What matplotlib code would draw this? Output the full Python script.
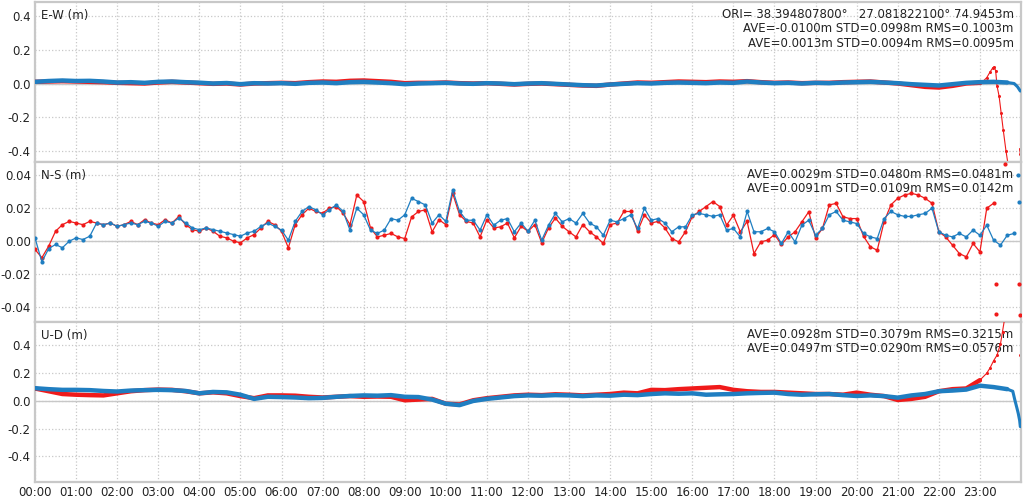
import numpy as np
import matplotlib
matplotlib.use("Agg")
import matplotlib.pyplot as plt

RED = '#f01a1a'
BLUE = '#1f7ec1'
GRID = '#c8c8c8'

# ---- E-W (m), 20 minute readings 00:00 .. 23:40 ----
ew_t = np.arange(72) / 3.0
ew_blue = [0.010, 0.015, 0.018, 0.015, 0.016, 0.012, 0.006, 0.008, 0.004, 0.010, 0.012, 0.008,
           0.005, 0.000, 0.003, -0.004, 0.002, 0.000, 0.002, -0.002, 0.004, 0.006, 0.002, 0.008,
           0.010, 0.006, 0.002, -0.004, 0.000, 0.002, 0.004, 0.000, -0.002, 0.002, 0.000, -0.004,
           0.000, 0.002, -0.002, -0.006, -0.010, -0.012, -0.006, -0.002, 0.002, 0.000, 0.004, 0.006,
           0.004, 0.002, 0.006, 0.004, 0.012, 0.006, 0.002, 0.004, 0.000, 0.004, 0.002, 0.006,
           0.008, 0.010, 0.006, 0.002, -0.004, -0.008, -0.012, -0.004, 0.004, 0.008, 0.010, 0.006]
ew_blue_tail_t = [23 + 40/60, 23 + 50/60, 23 + 55/60, 23 + 59/60]
ew_blue_tail = [0.006, 0.000, -0.020, -0.045]

ew_red = [0.010, 0.012, 0.014, 0.012, 0.010, 0.008, 0.004, 0.002, 0.000, 0.006, 0.010, 0.006,
          0.002, -0.002, 0.000, -0.006, 0.000, 0.002, 0.004, 0.002, 0.008, 0.012, 0.010, 0.016,
          0.018, 0.014, 0.010, 0.002, 0.004, 0.004, 0.006, 0.002, 0.000, 0.002, -0.002, -0.006,
          -0.002, 0.000, -0.004, -0.008, -0.012, -0.014, -0.006, 0.000, 0.006, 0.004, 0.008, 0.012,
          0.010, 0.008, 0.012, 0.010, 0.014, 0.008, 0.004, 0.006, 0.002, 0.004, 0.004, 0.008,
          0.010, 0.012, 0.006, 0.000, -0.010, -0.020, -0.024, -0.014, 0.000, 0.004]
ew_red_tail_t = [23.0, 23 + 5/60, 23 + 10/60, 23 + 15/60, 23 + 19/60, 23 + 21/60, 23 + 23/60,
                 23 + 25/60, 23 + 28/60, 23 + 31/60, 23 + 34/60, 23 + 38/60, 23 + 41/60]
ew_red_tail = [0.004, 0.015, 0.035, 0.070, 0.095, 0.100, 0.075,
               -0.015, -0.075, -0.175, -0.275, -0.400, -0.480]
ew_red_end_t = [23 + 58/60, 23 + 59/60]
ew_red_end = [-0.390, -0.420]

# ---- N-S (m), 10 minute readings 00:00 .. 23:50 ----
ns_t = np.arange(144) / 6.0
ns_blue = [0.002, -0.0125, -0.0045, -0.002, -0.004, 0.000, 0.002, 0.001, 0.003, 0.011, 0.010, 0.011,
           0.009, 0.010, 0.011, 0.010, 0.012, 0.011, 0.009, 0.012, 0.011, 0.014, 0.011, 0.008,
           0.007, 0.008, 0.007, 0.006, 0.005, 0.004, 0.003, 0.005, 0.006, 0.009, 0.011, 0.009,
           0.0067, 0.0006, 0.012, 0.018, 0.021, 0.019, 0.016, 0.019, 0.022, 0.018, 0.0067, 0.020,
           0.016, 0.0067, 0.0047, 0.0067, 0.0137, 0.0127, 0.016, 0.026, 0.024, 0.022, 0.011, 0.016,
           0.012, 0.031, 0.018, 0.0127, 0.0127, 0.0067, 0.016, 0.0097, 0.0127, 0.0137, 0.0057, 0.011,
           0.006, 0.0127, 0.0006, 0.0097, 0.0168, 0.0117, 0.0137, 0.011, 0.0168, 0.011, 0.0087, 0.0036,
           0.0127, 0.0117, 0.0137, 0.016, 0.0077, 0.020, 0.0127, 0.0137, 0.011, 0.0057, 0.0087, 0.0087,
           0.016, 0.0168, 0.016, 0.015, 0.016, 0.0067, 0.0077, 0.0026, 0.018, 0.0057, 0.0057, 0.0077,
           0.0057, -0.0014, 0.0057, -0.0004, 0.0097, 0.0127, 0.0036, 0.0077, 0.016, 0.018, 0.0127, 0.0117,
           0.0107, 0.0047, 0.0026, 0.0016, 0.0137, 0.018, 0.016, 0.015, 0.015, 0.016, 0.0168, 0.020,
           0.0057, 0.0036, 0.0026, 0.0047, 0.0026, 0.0067, 0.0036, 0.0097, 0.0006, -0.0024, 0.0036, 0.0047]
ns_blue_tail_t = [23 + 56/60, 23 + 57/60]
ns_blue_tail = [0.040, 0.024]

ns_red = [-0.005, -0.010, -0.003, 0.006, 0.010, 0.012, 0.011, 0.010, 0.012, 0.011, 0.010, 0.011,
          0.009, 0.010, 0.012, 0.010, 0.013, 0.011, 0.010, 0.013, 0.011, 0.015, 0.010, 0.007,
          0.006, 0.008, 0.006, 0.003, 0.002, 0.000, -0.001, 0.002, 0.004, 0.008, 0.012, 0.010,
          0.006, -0.004, 0.010, 0.016, 0.020, 0.018, 0.017, 0.020, 0.021, 0.017, 0.010, 0.028,
          0.024, 0.008, 0.0026, 0.0036, 0.0047, 0.0026, 0.0016, 0.0147, 0.018, 0.019, 0.0057, 0.013,
          0.010, 0.029, 0.016, 0.012, 0.011, 0.0026, 0.013, 0.008, 0.0087, 0.011, 0.002, 0.009,
          0.006, 0.010, -0.001, 0.008, 0.014, 0.009, 0.0057, 0.0026, 0.010, 0.0057, 0.0026, -0.0014,
          0.010, 0.011, 0.018, 0.018, 0.006, 0.016, 0.011, 0.012, 0.008, 0.0016, -0.0004, 0.0057,
          0.015, 0.018, 0.021, 0.024, 0.021, 0.0097, 0.0157, 0.0057, 0.012, -0.0075, -0.0004, 0.0006,
          0.004, -0.002, 0.0026, 0.0057, 0.0117, 0.0178, 0.002, 0.0077, 0.022, 0.0229, 0.0148, 0.0137,
          0.0137, 0.003, -0.0034, -0.0055, 0.0117, 0.022, 0.026, 0.028, 0.029, 0.028, 0.026, 0.023,
          0.0057, 0.0026, -0.0024, -0.0075, -0.0095, -0.0014, -0.0065, 0.020, 0.023]
ns_red_tail_t = [23 + 23/60, 23 + 24/60, 23 + 25/60, 23 + 36/60, 23 + 57/60, 23 + 59/60]
ns_red_tail = [-0.026, -0.044, -0.052, 0.047, -0.026, -0.045]

# ---- U-D (m), 20 minute readings 00:00 .. 23:40 ----
ud_t = np.arange(72) / 3.0
ud_blue = [0.092, 0.085, 0.080, 0.080, 0.078, 0.072, 0.068, 0.075, 0.078, 0.080, 0.078, 0.072,
           0.055, 0.065, 0.062, 0.045, 0.015, 0.030, 0.028, 0.025, 0.020, 0.022, 0.030, 0.036,
           0.040, 0.038, 0.042, 0.030, 0.028, 0.010, -0.020, -0.030, 0.000, 0.015, 0.025, 0.035,
           0.040, 0.038, 0.042, 0.040, 0.035, 0.040, 0.038, 0.045, 0.042, 0.050, 0.055, 0.052,
           0.055, 0.045, 0.048, 0.050, 0.055, 0.058, 0.060, 0.050, 0.045, 0.048, 0.050, 0.042,
           0.036, 0.040, 0.035, 0.024, 0.040, 0.050, 0.070, 0.075, 0.082, 0.110, 0.100, 0.085]
ud_blue_tail_t = [23 + 40/60, 23 + 48/60, 23 + 51/60, 23 + 54/60, 23 + 56/60, 23 + 58/60, 23 + 59/60]
ud_blue_tail = [0.085, 0.070, 0.007, -0.050, -0.090, -0.140, -0.185]

ud_red = [0.090, 0.070, 0.050, 0.045, 0.042, 0.040, 0.055, 0.070, 0.078, 0.082, 0.080, 0.070,
          0.055, 0.062, 0.055, 0.035, 0.020, 0.040, 0.040, 0.038, 0.030, 0.025, 0.030, 0.035,
          0.030, 0.032, 0.030, 0.005, 0.010, 0.015, -0.020, -0.025, 0.005, 0.020, 0.030, 0.040,
          0.045, 0.042, 0.048, 0.045, 0.040, 0.045, 0.050, 0.060, 0.055, 0.080, 0.078, 0.085,
          0.090, 0.095, 0.100, 0.080, 0.070, 0.065, 0.065, 0.060, 0.055, 0.050, 0.050, 0.045,
          0.060, 0.045, 0.035, 0.007, 0.015, 0.030, 0.070, 0.085, 0.090, 0.150]
ud_red_tail_t = [23.0, 23 + 10/60, 23 + 15/60, 23 + 20/60, 23 + 25/60, 23 + 30/60, 23 + 33/60, 23 + 36/60]
ud_red_tail = [0.150, 0.200, 0.240, 0.290, 0.330, 0.410, 0.500, 0.590]
ud_red_end_t = [23 + 59/60]
ud_red_end = [0.330]

hour_labels = ['%02d:00' % h for h in range(24)]

ew_text = ["ORI= 38.394807800\u00b0   27.081822100\u00b0 74.9453m",
           "AVE=-0.0100m STD=0.0998m RMS=0.1003m",
           "AVE=0.0013m STD=0.0094m RMS=0.0095m"]
ns_text = ["AVE=0.0029m STD=0.0480m RMS=0.0481m",
           "AVE=0.0091m STD=0.0109m RMS=0.0142m"]
ud_text = ["AVE=0.0928m STD=0.3079m RMS=0.3215m",
           "AVE=0.0497m STD=0.0290m RMS=0.0576m"]

fig = plt.figure(figsize=(10.24, 4.99), dpi=100)
left, width = 35 / 1024, 986 / 1024
h = 160 / 499


def setup(ax, ylim, yticks, fmt, title, lines):
    ax.set_xlim(0, 24)
    ax.set_ylim(*ylim)
    ax.set_yticks(yticks)
    ax.set_yticklabels([fmt % v for v in yticks])
    ax.set_xticks(range(24))
    ax.grid(True, color=GRID, linestyle=':', linewidth=0.9)
    ax.axhline(0, color=GRID, linewidth=1.0, zorder=1)
    ax.tick_params(length=0, labelsize=8.5, colors='#222222', pad=3)
    for s in ax.spines.values():
        s.set_color(GRID)
        s.set_linewidth(1.6)
    ax.text(0.006, 0.955, title, transform=ax.transAxes, fontsize=8.5,
            va='top', ha='left', color='#222222')
    ax.text(0.9925, 0.965, "\n".join(lines), transform=ax.transAxes, fontsize=8.5,
            va='top', ha='right', color='#222222', linespacing=1.15)


def band(ax, t, v, c, lw=3.2):
    ax.plot(t, v, color=c, lw=lw, solid_capstyle='round', zorder=3)


def dots(ax, t, v, c, z=3):
    ax.plot(t, v, color=c, lw=0.8, marker='o', ms=2.2, mew=0, zorder=z, clip_on=True)


# E-W
ax1 = fig.add_axes([left, 1 - 162 / 499, width, h])
setup(ax1, (-0.468, 0.486), [0.4, 0.2, 0.0, -0.2, -0.4], '%.1f', 'E-W (m)', ew_text)
ax1.set_xticklabels([])
band(ax1, ew_t[:len(ew_red)], ew_red, RED)
dots(ax1, ew_red_tail_t, ew_red_tail, RED)
ax1.plot(ew_red_end_t, ew_red_end, color=RED, marker='o', ms=2.2, mew=0, lw=0.8)
band(ax1, ew_t, ew_blue, BLUE)
band(ax1, ew_blue_tail_t, ew_blue_tail, BLUE, lw=2.2)

# N-S
ax2 = fig.add_axes([left, 1 - 322 / 499, width, h])
setup(ax2, (-0.049, 0.048), [0.04, 0.02, 0.0, -0.02, -0.04], '%.2f', 'N-S (m)', ns_text)
ax2.set_xticklabels([])
ax2.plot(ns_t[:len(ns_red)], ns_red, color=RED, lw=0.9, marker='o', ms=3, mew=0, zorder=3)
ax2.plot(ns_red_tail_t, ns_red_tail, color=RED, lw=0, marker='o', ms=3, mew=0, zorder=3)
ax2.plot(ns_t, ns_blue, color=BLUE, lw=0.9, marker='o', ms=3, mew=0, zorder=4)
ax2.plot(ns_blue_tail_t, ns_blue_tail, color=BLUE, lw=0, marker='o', ms=3, mew=0, zorder=4)

# U-D
ax3 = fig.add_axes([left, 1 - 482 / 499, width, h])
setup(ax3, (-0.584, 0.569), [0.4, 0.2, 0.0, -0.2, -0.4], '%.1f', 'U-D (m)', ud_text)
ax3.set_xticklabels(hour_labels)
band(ax3, ud_t[:len(ud_red)], ud_red, RED)
dots(ax3, ud_red_tail_t, ud_red_tail, RED)
ax3.plot(ud_red_end_t, ud_red_end, color=RED, marker='o', ms=2.2, mew=0, lw=0)
band(ax3, ud_t, ud_blue, BLUE)
band(ax3, ud_blue_tail_t, ud_blue_tail, BLUE, lw=2.2)

fig.savefig('out.png', dpi=100)
